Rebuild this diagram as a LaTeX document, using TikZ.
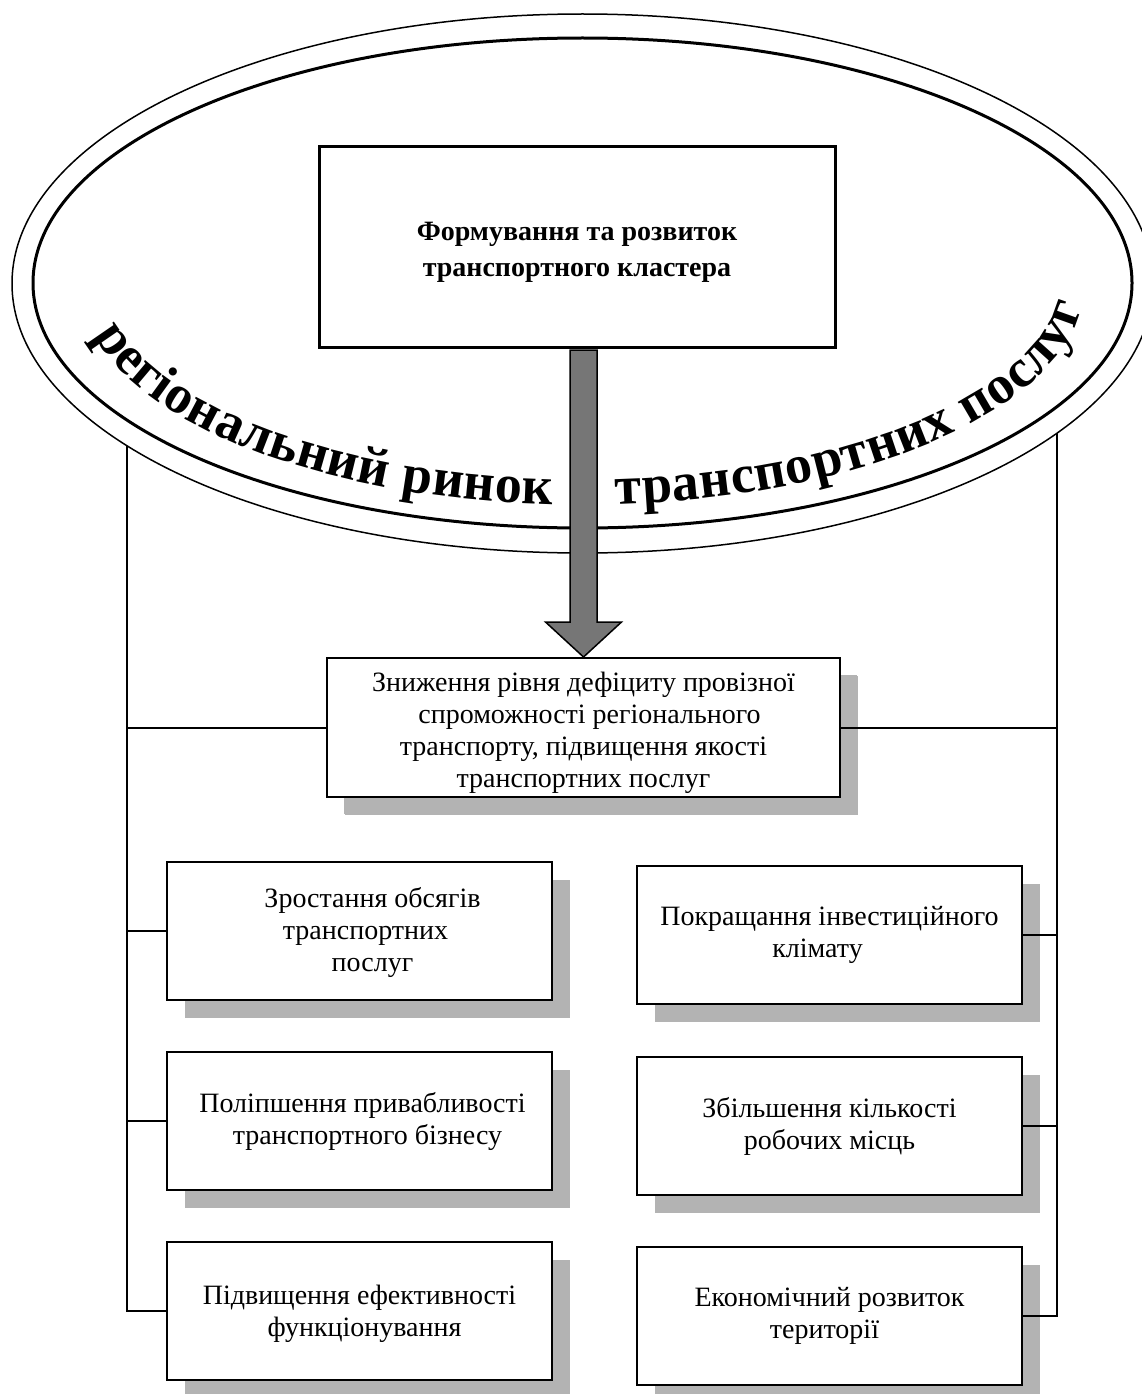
\documentclass[tikz,border=0pt]{standalone}
\usepackage{fontspec}
\setmainfont{Liberation Serif}
\newfontfamily\curvefont{Liberation Serif}
\usetikzlibrary{shadows,decorations.text,calc}
\definecolor{arrowgray}{HTML}{767676}
\definecolor{shadowgray}{HTML}{B3B3B3}
\newcommand\cfont{\curvefont\bfseries\fontsize{54}{56}\selectfont}
\newcommand\lines[2][0pt]{\raisebox{#1}[\height][\depth]{\begin{tabular}{@{}c@{}}#2\end{tabular}}}
\tikzset{
  box/.style={draw, line width=2pt, fill=white, minimum width=385pt, minimum height=138pt,
    inner sep=0pt, align=center, font=\fontsize{28}{32}\selectfont,
    drop shadow={shadow xshift=18pt, shadow yshift=-18pt, fill=shadowgray, opacity=1}},
  midbox/.style={box, minimum width=513pt, minimum height=139pt,
    drop shadow={shadow xshift=17pt, shadow yshift=-17pt, fill=shadowgray, opacity=1}},
  topbox/.style={draw, line width=3pt, fill=white, minimum width=516pt, minimum height=201pt,
    inner sep=0pt, align=center, font=\bfseries\fontsize{28}{36}\selectfont},
  conn/.style={draw, line width=2pt},
  bigarrow/.style={draw, line width=1.5pt, fill=arrowgray, line join=miter},
}
\begin{document}
\begin{tikzpicture}[x=1pt,y=1pt]
\useasboundingbox (0,0) rectangle (1141,-1394);
\fill[white] (0,0) rectangle (1141,-1394);
% ellipses
\coordinate (E) at (582.5,-283.5);
\draw[line width=1.5pt] (E) ellipse [x radius=570.5, y radius=269.5];
\draw[line width=3pt] (582.5,-283) ellipse [x radius=549.5, y radius=245];
% curved text
\path[decorate, decoration={text along path, text={|\cfont|регіональний ринок}, text align=fit to path}]
  ($(582.5,-283)+(193.5:502 and 222)$) arc[start angle=193.5, end angle=266.6, x radius=502, y radius=222];
\path[decorate, decoration={text along path, text={|\cfont|транспортних послуг}, text align=fit to path}]
  ($(582.5,-283)+(273.8:502 and 222)$) arc[start angle=273.8, end angle=354, x radius=502, y radius=222];
% boxes
\node[topbox] (top) at (577,-246.5) {\lines[-5pt]{Формування та розвиток\\транспортного кластера}};
\node[midbox] (mid) at (583.5,-727.5) {\lines[-6pt]{Зниження рівня дефіциту провізної\\\hspace*{12pt}спроможності регіонального\\транспорту, підвищення якості\\транспортних послуг}};
\node[box] (l1) at (359.5,-931) {\lines[-2pt]{\hspace*{26pt}Зростання обсягів\\\hspace*{12pt}транспортних\\\hspace*{26pt}послуг}};
\node[box] (l2) at (359.5,-1121) {\hspace*{6pt}Поліпшення привабливості\\\hspace*{16pt}транспортного бізнесу};
\node[box] (l3) at (359.5,-1311) {\lines[-3pt]{Підвищення ефективності\\\hspace*{10pt}функціонування}};
\node[box] (r1) at (829.5,-935) {Покращання інвестиційного\\клімату\hspace*{24pt}};
\node[box] (r2) at (829.5,-1126) {Збільшення кількості\\робочих місць};
\node[box] (r3) at (829.5,-1316) {Економічний розвиток\\території\hspace*{10pt}};
% big arrow
\draw[bigarrow] ($(top.south -| mid.north)+(-13.5,-1.5)$) -- ($(top.south -| mid.north)+(13.5,-1.5)$)
  -- ($(mid.north)+(13.5,35)$) -- ($(mid.north)+(38,35)$) -- (mid.north)
  -- ($(mid.north)+(-38,35)$) -- ($(mid.north)+(-13.5,35)$) -- cycle;
% connectors
\coordinate (LT) at (127,-446);
\coordinate (RT) at (1057,-433);
\draw[conn] (LT) |- (l3.west);
\draw[conn] (RT) |- (r3.east);
\draw[conn] (mid.west) -- (mid.west -| LT);
\draw[conn] (mid.east) -- (mid.east -| RT);
\draw[conn] (l1.west) -- (l1.west -| LT);
\draw[conn] (l2.west) -- (l2.west -| LT);
\draw[conn] (r1.east) -- (r1.east -| RT);
\draw[conn] (r2.east) -- (r2.east -| RT);
\end{tikzpicture}
\end{document}
